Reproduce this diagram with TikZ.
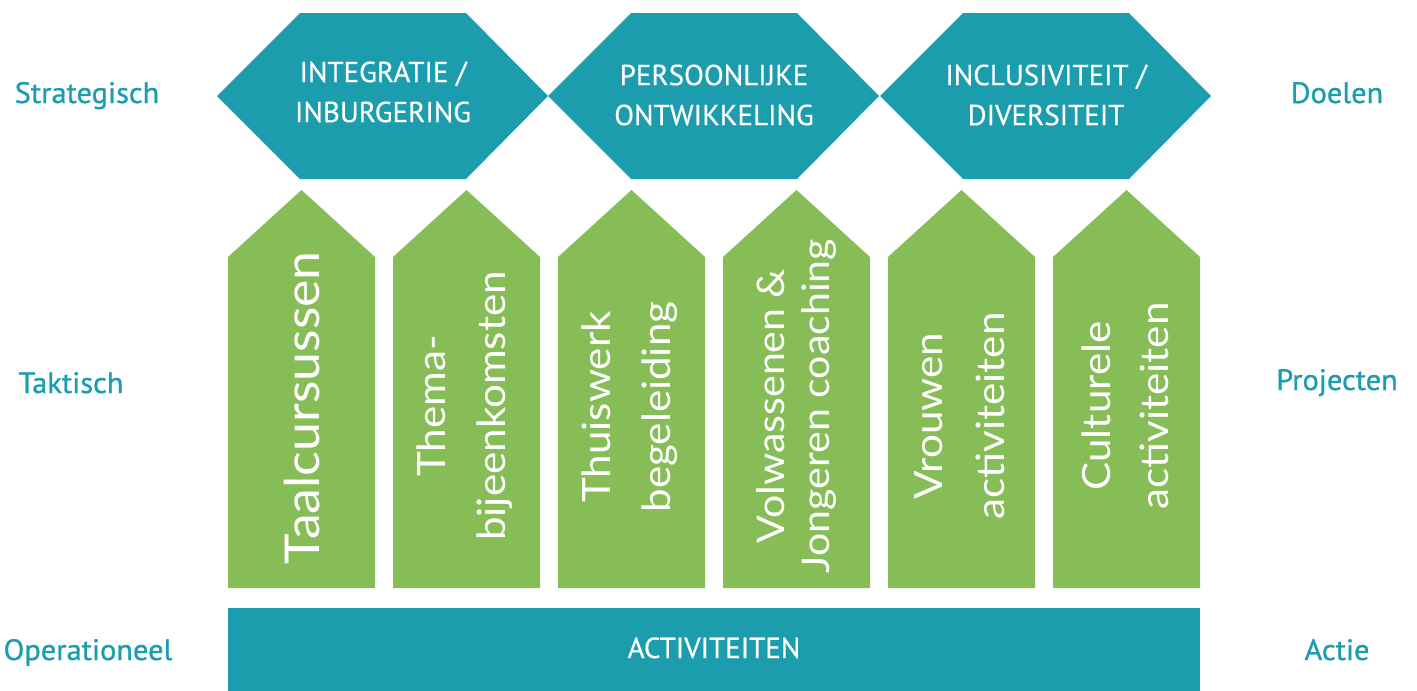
\documentclass[tikz,border=0pt]{standalone}
\usepackage{fontspec}
\newfontfamily\dinfont[FakeStretch=1.0,FakeBold=0.4]{PT Sans}
\newfontfamily\dinfontm[FakeStretch=1.03,FakeBold=0.9]{PT Sans}
\newfontfamily\boxfont[FakeStretch=1.08]{Lato}
\definecolor{teal1}{RGB}{27,157,174}
\definecolor{green1}{RGB}{134,189,87}
\tikzset{
  hexfill/.style={fill=teal1},
  pentfill/.style={fill=green1},
  hextext/.style={text=white,font=\dinfont\fontsize{29}{40}\selectfont,align=center,inner sep=0pt},
  sidelabel/.style={text=teal1,font=\dinfontm\fontsize{29.5}{34}\selectfont,inner sep=0pt,anchor=base},
  vtext/.style={text=white,rotate=90,align=center,inner sep=0pt},
}
\begin{document}
\begin{tikzpicture}[x=1pt,y=-1pt]
\useasboundingbox (0,0) rectangle (1417,691);
% hexagons
\foreach \xl in {217,548,880}{
  \fill[hexfill] (\xl,96) -- (\xl+83,13) -- (\xl+249,13) -- (\xl+331,96) -- (\xl+249,179) -- (\xl+83,179) -- cycle;
}
\node[hextext] (tA) at (383,92) {INTEGRATIE /\\INBURGERING};
\node[hextext] (tB) at (714,95) {PERSOONLIJKE\\ONTWIKKELING};
\node[hextext] (tC) at (1046,95) {INCLUSIVITEIT /\\DIVERSITEIT};
% pentagons
\foreach \x in {228,393,558,723,888,1053}{
  \fill[pentfill] (\x,588) -- (\x,257) -- (\x+73.5,190) -- (\x+147,257) -- (\x+147,588) -- cycle;
}
\node[vtext,font=\boxfont\fontsize{48}{60}\selectfont] (p1) at (302,408) {Taalcursussen};
\node[vtext,font=\boxfont\fontsize{39}{60}\selectfont] (p2) at (465,406) {Thema-\\bijeenkomsten};
\node[vtext,font=\boxfont\fontsize{39}{60}\selectfont] (p3) at (630,407) {Thuiswerk\\begeleiding};
\node[vtext,font=\boxfont\fontsize{38}{45}\selectfont] (p4) at (796,406) {Volwassenen \&\\Jongeren coaching};
\node[vtext,font=\boxfont\fontsize{39}{62}\selectfont] (p5) at (960,416) {Vrouwen\\activiteiten};
\node[vtext,font=\boxfont\fontsize{39}{58}\selectfont] (p6) at (1125,406) {Culturele\\activiteiten};
% bar
\fill[hexfill] (228,608) rectangle (1200,691);
\node[hextext,anchor=base] (act) at (714,658) {ACTIVITEITEN};
% side labels
\node[sidelabel] (s1) at (87,103) {Strategisch};
\node[sidelabel] (s2) at (71,393) {Taktisch};
\node[sidelabel] (s3) at (88,660) {Operationeel};
\node[sidelabel] (d1) at (1337,103) {Doelen};
\node[sidelabel] (d2) at (1337,390) {Projecten};
\node[sidelabel] (d3) at (1337,660) {Actie};
\end{tikzpicture}
\end{document}
